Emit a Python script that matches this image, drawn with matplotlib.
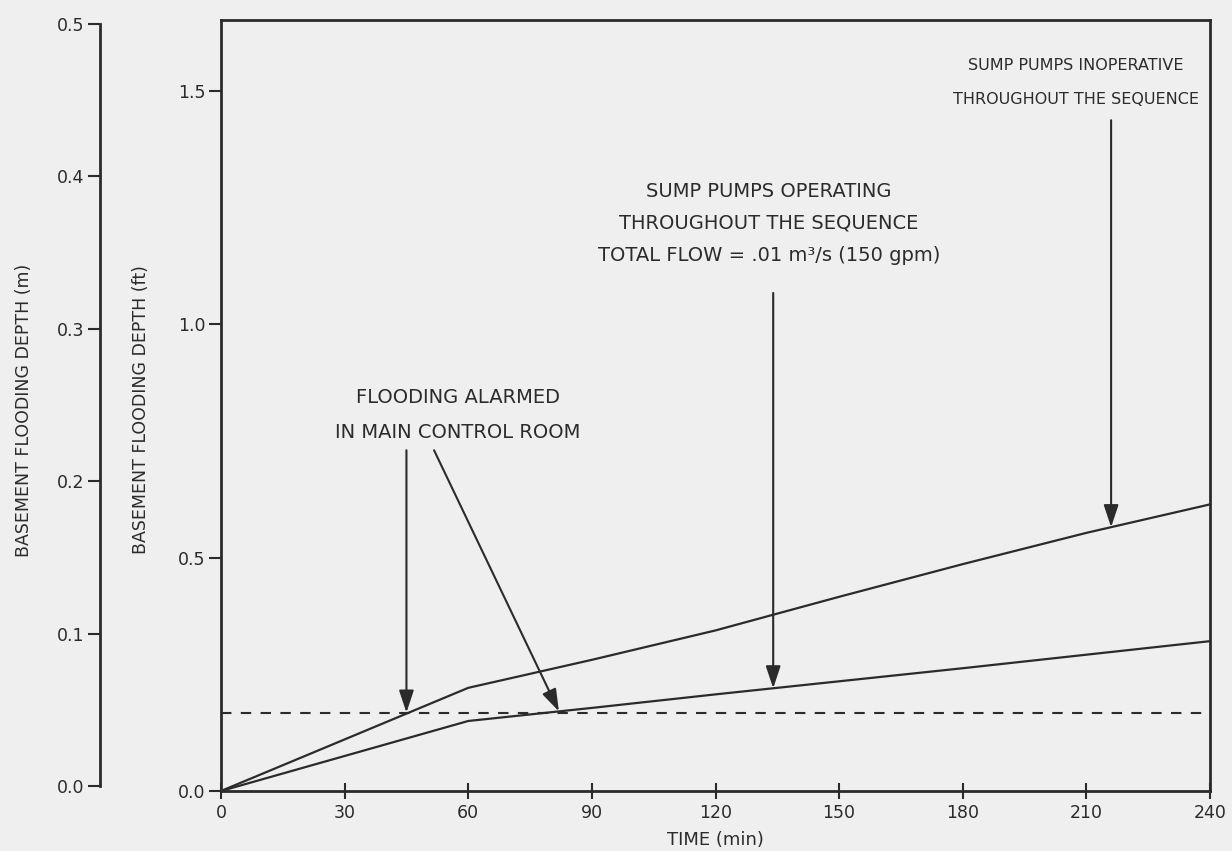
import numpy as np
import matplotlib
matplotlib.use("Agg")
import matplotlib.pyplot as plt

# Basement flooding depth (ft) versus time (min)
time_min = [0, 60, 90, 120, 150, 180, 210, 240]
depth_pumps_off = [0.0, 0.221, 0.281, 0.344, 0.416, 0.486, 0.553, 0.614]
depth_pumps_on = [0.0, 0.150, 0.178, 0.207, 0.235, 0.263, 0.292, 0.321]
alarm_level_ft = 0.168

x_ticks = [0, 30, 60, 90, 120, 150, 180, 210, 240]
ft_ticks = [0.0, 0.5, 1.0, 1.5]
m_ticks = [0.0, 0.1, 0.2, 0.3, 0.4, 0.5]

ink = "#2b2b2b"
paper = "#efefef"
W, H = 1232, 851

fig = plt.figure(figsize=(W / 100, H / 100), dpi=100, facecolor=paper)

# main axes (feet)
x0, x1, yb, yt = 221, 1210, 791, 20
ax = fig.add_axes([x0 / W, (H - yb) / H, (x1 - x0) / W, (yb - yt) / H])
ax.set_facecolor(paper)
ax.set_xlim(0, 240)
ax.set_ylim(0, (yb - yt) / 466.8)
for s in ax.spines.values():
    s.set_color(ink)
    s.set_linewidth(2.0)

ax.plot(time_min, depth_pumps_off, color=ink, lw=1.6)
ax.plot(time_min, depth_pumps_on, color=ink, lw=1.6)
ax.axhline(alarm_level_ft, color=ink, lw=1.5, ls=(0, (5, 4.5)))

ax.set_xticks(x_ticks)
ax.set_xticklabels([str(v) for v in x_ticks])
ax.set_yticks(ft_ticks)
ax.set_yticklabels([f"{v:.1f}" for v in ft_ticks])
ax.tick_params(axis="x", direction="inout", length=11, width=1.5, colors=ink,
               labelsize=12.5, pad=4)
ax.tick_params(axis="y", direction="out", length=9, width=1.5, colors=ink,
               labelsize=12.5, pad=2)

fig.text(715 / W, 1 - 840 / H, "TIME (min)", ha="center", va="center",
         fontsize=13, color=ink)
fig.text(141 / W, 1 - 410 / H, "BASEMENT FLOODING DEPTH (ft)", rotation=90,
         ha="center", va="center", fontsize=12.5, color=ink)
fig.text(24 / W, 1 - 410 / H, "BASEMENT FLOODING DEPTH (m)", rotation=90,
         ha="center", va="center", fontsize=12.5, color=ink)

# metric scale on the far left
mb, mt, mx = 786, 24, 100
axm = fig.add_axes([mx / W, (H - mb) / H, 0.001, (mb - mt) / H])
axm.set_facecolor("none")
axm.set_ylim(0, 0.5)
for k in ("top", "right", "bottom"):
    axm.spines[k].set_visible(False)
axm.spines["left"].set_color(ink)
axm.spines["left"].set_linewidth(2.0)
axm.set_xticks([])
axm.set_yticks(m_ticks)
axm.set_yticklabels([f"{v:.1f}" for v in m_ticks])
axm.tick_params(axis="y", direction="out", length=9, width=1.5, colors=ink,
                labelsize=12.5, pad=2)

# annotations
big = dict(fontsize=14, color=ink, ha="center", va="center")
small = dict(fontsize=11.5, color=ink, ha="center", va="center")
ax.text(57.5, 0.842, "FLOODING ALARMED", **big)
ax.text(57.5, 0.767, "IN MAIN CONTROL ROOM", **big)
ax.text(133.0, 1.285, "SUMP PUMPS OPERATING", **big)
ax.text(133.0, 1.217, "THROUGHOUT THE SEQUENCE", **big)
ax.text(133.0, 1.148, "TOTAL FLOW = .01 m³/s (150 gpm)", **big)
ax.text(207.5, 1.555, "SUMP PUMPS INOPERATIVE", **small)
ax.text(207.5, 1.482, "THROUGHOUT THE SEQUENCE", **small)

arrow = dict(arrowstyle="-|>,head_length=0.9,head_width=0.3", color=ink,
             lw=1.5, shrinkA=0, shrinkB=0, mutation_scale=15)
t_on = 134
t_off = 216
ax.annotate("", xy=(45, alarm_level_ft), xytext=(45, 0.730), arrowprops=arrow)
ax.annotate("", xy=(82, np.interp(82, time_min, depth_pumps_on)),
            xytext=(51.7, 0.730), arrowprops=arrow)
ax.annotate("", xy=(t_on, np.interp(t_on, time_min, depth_pumps_on)),
            xytext=(t_on, 1.067), arrowprops=arrow)
ax.annotate("", xy=(t_off, np.interp(t_off, time_min, depth_pumps_off)),
            xytext=(t_off, 1.437), arrowprops=arrow)

fig.savefig("out.png", dpi=100, facecolor=paper)
